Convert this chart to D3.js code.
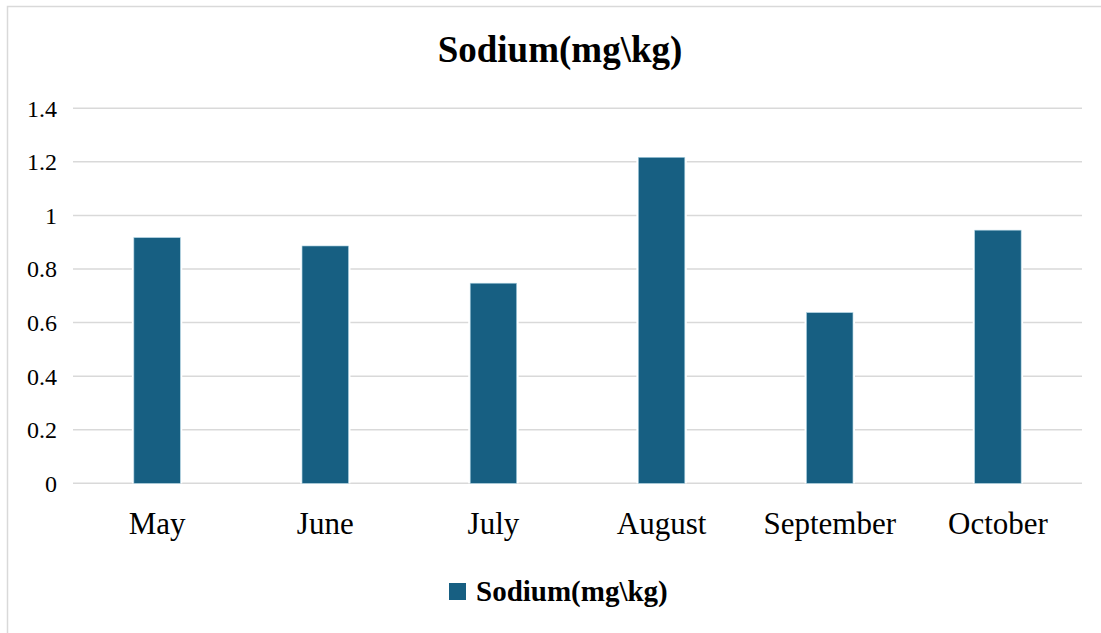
<!DOCTYPE html>
<html lang="en">
<head>
    <meta charset="UTF-8">
    <title>Sodium(mg\kg)</title>
    <script src="https://d3js.org/d3.v7.min.js"></script>
    <style>
        body { margin: 0; background: #fff; }
        text { font-family: "Liberation Serif", "Times New Roman", serif; }
    </style>
</head>
<body>
<svg width="1101" height="633"></svg>
<script>
// Chart data
const months = ["May", "June", "July", "August", "September", "October"];
const sodium = [0.917, 0.886, 0.747, 1.217, 0.637, 0.945];
const yTicks = [0, 0.2, 0.4, 0.6, 0.8, 1, 1.2, 1.4];
const seriesName = "Sodium(mg\\kg)";

const barColor = "#175f82";
const gridColor = "#d9d9d9";

var svg = d3.select("svg");

// Outer frame
svg.append("rect")
    .attr("x", 7.5).attr("y", 6.5)
    .attr("width", 1100).attr("height", 640)
    .attr("fill", "white")
    .attr("stroke", "#d9d9d9")
    .attr("stroke-width", 1.5);

// Scales
var x = d3.scaleBand().domain(months).range([73, 1082]).paddingInner(0.724).paddingOuter(0.362);
var y = d3.scaleLinear().domain([0, 1.4]).range([483.3, 108.3]);

// Gridlines
svg.append("g")
    .selectAll("line")
    .data(yTicks)
    .enter()
    .append("line")
    .attr("x1", 73).attr("x2", 1082)
    .attr("y1", d => y(d)).attr("y2", d => y(d))
    .attr("stroke", gridColor)
    .attr("stroke-width", 1.5);

// Left axis labels
svg.append("g")
    .attr("transform", "translate(57,0)")
    .call(d3.axisLeft(y).tickValues(yTicks).tickSize(0).tickPadding(0).tickFormat(d3.format("~g")))
    .call(g => g.select(".domain").remove())
    .selectAll("text")
    .attr("font-size", "24px")
    .attr("font-family", "Liberation Serif, serif")
    .attr("fill", "#000")
    .attr("dy", "0.33em");

// Bars: white halo breaks the gridlines, then the bar
var bars = svg.append("g");
bars.selectAll("rect.halo")
    .data(sodium)
    .enter()
    .append("rect")
    .attr("class", "halo")
    .attr("x", (d, i) => x(months[i]) - 2)
    .attr("y", d => y(d) - 1)
    .attr("width", x.bandwidth() + 4)
    .attr("height", d => y(0) - y(d) + 1)
    .attr("fill", "white");

bars.selectAll("rect.bar")
    .data(sodium)
    .enter()
    .append("rect")
    .attr("class", "bar")
    .attr("x", (d, i) => x(months[i]))
    .attr("y", d => y(d))
    .attr("width", x.bandwidth())
    .attr("height", d => y(0) - y(d))
    .attr("fill", barColor)
    .attr("stroke", "#a9cfdf")
    .attr("stroke-width", 0.6);

// Bottom axis labels
svg.append("g")
    .attr("transform", "translate(0,483.3)")
    .call(d3.axisBottom(x).tickSize(0).tickPadding(0))
    .call(g => g.select(".domain").remove())
    .selectAll("text")
    .attr("font-size", "31px")
    .attr("font-family", "Liberation Serif, serif")
    .attr("fill", "#000")
    .attr("dy", null)
    .attr("y", 51);

// Title
svg.append("text")
    .attr("x", 560)
    .attr("y", 62)
    .attr("text-anchor", "middle")
    .attr("font-size", "37px")
    .attr("font-weight", "bold")
    .attr("fill", "#000")
    .text(seriesName);

// Legend
var legend = svg.append("g");
legend.append("rect")
    .attr("x", 449).attr("y", 583)
    .attr("width", 17).attr("height", 17)
    .attr("fill", barColor);
legend.append("text")
    .attr("x", 476)
    .attr("y", 601)
    .attr("font-size", "29px")
    .attr("font-weight", "bold")
    .attr("fill", "#000")
    .text(seriesName);
</script>
</body>
</html>
